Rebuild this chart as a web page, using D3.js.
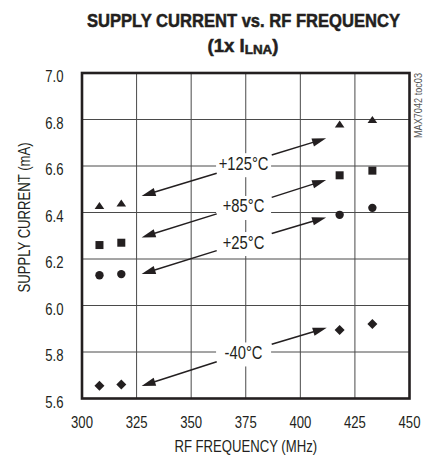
<!DOCTYPE html>
<html>
<head>
<meta charset="utf-8">
<script src="https://cdn.jsdelivr.net/npm/d3@7"></script>
<style>
  html, body { margin: 0; padding: 0; background: #fff; }
  svg { display: block; }
  text { font-family: "Liberation Sans", Arial, sans-serif; fill: #231f20; }
</style>
</head>
<body>
<svg id="chart" width="430" height="455"></svg>
<script>
// ---- data ----
const freqMHz = [308, 318, 418, 433];
const current125 = [6.43, 6.44, 6.78, 6.80];
const current85 = [6.26, 6.27, 6.56, 6.58];
const current25 = [6.13, 6.135, 6.39, 6.42];
const currentM40 = [5.655, 5.66, 5.895, 5.92];

const xTicks = [300, 325, 350, 375, 400, 425, 450];
const yTicks = [5.6, 5.8, 6.0, 6.2, 6.4, 6.6, 6.8, 7.0];

// annotation labels (data units) and arrows [x1, y1, x2(tip), y2(tip)]
const annoText = ["+125°C", "+85°C", "+25°C", "-40°C"];
const annoX = 374;
const annoY = [6.612, 6.428, 6.273, 5.798];
const arrowsLeft = [
  [361.7, 6.569, 327.3, 6.471],
  [361.7, 6.394, 327.3, 6.293],
  [361.7, 6.236, 327.3, 6.135],
  [361.7, 5.758, 327.3, 5.654]
];
const arrowsRight = [
  [386.9, 6.647, 411.8, 6.719],
  [386.9, 6.465, 411.8, 6.540],
  [386.9, 6.310, 411.8, 6.379],
  [386.9, 5.833, 412.1, 5.904]
];

// ---- layout ----
const svg = d3.select("#chart");
const pL = 82, pR = 409.5, pT = 73, pB = 398.5;
const x = d3.scaleLinear().domain([300, 450]).range([pL, pR]);
const y = d3.scaleLinear().domain([5.6, 7.0]).range([pB, pT]);

// gridlines
const grid = svg.append("g").attr("stroke", "#4a4a4a").attr("stroke-width", 1);
grid.selectAll("line.v").data(xTicks.slice(1, -1)).join("line")
  .attr("x1", d => x(d)).attr("x2", d => x(d))
  .attr("y1", pT).attr("y2", pB);
grid.selectAll("line.h").data(yTicks.slice(1, -1)).join("line")
  .attr("x1", pL).attr("x2", pR)
  .attr("y1", d => y(d)).attr("y2", d => y(d));

// label boxes (white, hiding gridlines)
svg.append("g").selectAll("rect").data(annoY).join("rect")
  .attr("x", x(annoX) - 27.5).attr("width", 55)
  .attr("y", d => y(d) - 10).attr("height", 24)
  .attr("fill", "#fff");

// frame
svg.append("rect")
  .attr("x", pL).attr("y", pT)
  .attr("width", pR - pL).attr("height", pB - pT)
  .attr("fill", "none").attr("stroke", "#231f20").attr("stroke-width", 2.6);

// axis tick labels
svg.append("g").selectAll("text").data(yTicks).join("text")
  .attr("class", "cond")
  .attr("x", 63.5).attr("y", d => y(d) + 9)
  .attr("text-anchor", "end").attr("font-size", 16)
  .text(d => d3.format(".1f")(d));
svg.append("g").selectAll("text").data(xTicks).join("text")
  .attr("class", "cond")
  .attr("x", d => x(d)).attr("y", 427.5)
  .attr("text-anchor", "middle").attr("font-size", 16)
  .text(d => d);

// axis titles
svg.append("text").attr("class", "cond")
  .attr("x", (pL + pR) / 2).attr("y", 452)
  .attr("text-anchor", "middle").attr("font-size", 16)
  .text("RF FREQUENCY (MHz)");
svg.append("text").attr("class", "cond")
  .attr("transform", "translate(30,217.5) rotate(-90)")
  .attr("text-anchor", "middle").attr("font-size", 16)
  .text("SUPPLY CURRENT (mA)");

// chart title
svg.append("text")
  .attr("x", 243.5).attr("y", 26.7)
  .attr("text-anchor", "middle").attr("font-size", 18).attr("font-weight", "bold")
  .attr("stroke", "#231f20").attr("stroke-width", 0.5)
  .attr("textLength", 313).attr("lengthAdjust", "spacingAndGlyphs")
  .text("SUPPLY CURRENT vs. RF FREQUENCY");
const t2 = svg.append("text")
  .attr("x", 243).attr("y", 51.7)
  .attr("text-anchor", "middle").attr("font-size", 18).attr("font-weight", "bold")
  .attr("stroke", "#231f20").attr("stroke-width", 0.5)
  .attr("textLength", 71).attr("lengthAdjust", "spacingAndGlyphs");
t2.append("tspan").text("(1x I");
t2.append("tspan").attr("font-size", 13).attr("dy", 2.6).text("LNA");
t2.append("tspan").attr("dy", -2.6).text(")");

// side code
svg.append("text")
  .attr("transform", "translate(421.5,105.5) rotate(-90)")
  .attr("text-anchor", "middle").attr("font-size", 10)
  .attr("textLength", 65).attr("lengthAdjust", "spacingAndGlyphs")
  .style("fill", "#555")
  .text("MAX7042 toc03");

// arrows
function arrowPath(a) {
  const x1 = x(a[0]), y1 = y(a[1]), x2 = x(a[2]), y2 = y(a[3]);
  const dx = x2 - x1, dy = y2 - y1, len = Math.hypot(dx, dy);
  const ux = dx / len, uy = dy / len;
  return { x1, y1, x2, y2, ux, uy };
}
const arrowData = arrowsLeft.concat(arrowsRight).map(arrowPath);
const headLen = 14, headHalf = 4.2;
const ag = svg.append("g");
ag.selectAll("line").data(arrowData).join("line")
  .attr("x1", d => d.x1).attr("y1", d => d.y1)
  .attr("x2", d => d.x2 - d.ux * headLen * 0.8).attr("y2", d => d.y2 - d.uy * headLen * 0.8)
  .attr("stroke", "#231f20").attr("stroke-width", 1.5);
ag.selectAll("path").data(arrowData).join("path")
  .attr("d", d => {
    const bx = d.x2 - d.ux * headLen, by = d.y2 - d.uy * headLen;
    const px = -d.uy * headHalf, py = d.ux * headHalf;
    return `M${d.x2},${d.y2}L${bx + px},${by + py}L${bx - px},${by - py}Z`;
  })
  .attr("fill", "#231f20");

// annotation labels
svg.append("g").selectAll("text").data(annoY).join("text")
  .attr("class", "cond")
  .attr("x", x(annoX)).attr("y", d => y(d) + 6.5)
  .attr("text-anchor", "middle").attr("font-size", 18)
  .text((d, i) => annoText[i]);

// condensed look (Helvetica Condensed ≈ 82% width)
svg.selectAll("text.cond").each(function () {
  const len = this.getComputedTextLength();
  d3.select(this).attr("textLength", len * 0.82).attr("lengthAdjust", "spacingAndGlyphs");
});

// markers
const mk = svg.append("g").attr("fill", "#231f20");
const tri = freqMHz.map((f, i) => [f, current125[i]]);
const sq = freqMHz.map((f, i) => [f, current85[i]]);
const ci = freqMHz.map((f, i) => [f, current25[i]]);
const di = freqMHz.map((f, i) => [f, currentM40[i]]);
mk.selectAll("path.tri").data(tri).join("path")
  .attr("d", d => { const cx = x(d[0]), cy = y(d[1]);
    return `M${cx},${cy - 3.6}L${cx + 4.8},${cy + 3.4}L${cx - 4.8},${cy + 3.4}Z`; });
mk.selectAll("rect.sq").data(sq).join("rect")
  .attr("x", d => x(d[0]) - 4).attr("y", d => y(d[1]) - 4)
  .attr("width", 8).attr("height", 8);
mk.selectAll("circle.ci").data(ci).join("circle")
  .attr("cx", d => x(d[0])).attr("cy", d => y(d[1])).attr("r", 4.2);
mk.selectAll("path.di").data(di).join("path")
  .attr("d", d => { const cx = x(d[0]), cy = y(d[1]);
    return `M${cx},${cy - 5}L${cx + 5},${cy}L${cx},${cy + 5}L${cx - 5},${cy}Z`; });
</script>
</body>
</html>
